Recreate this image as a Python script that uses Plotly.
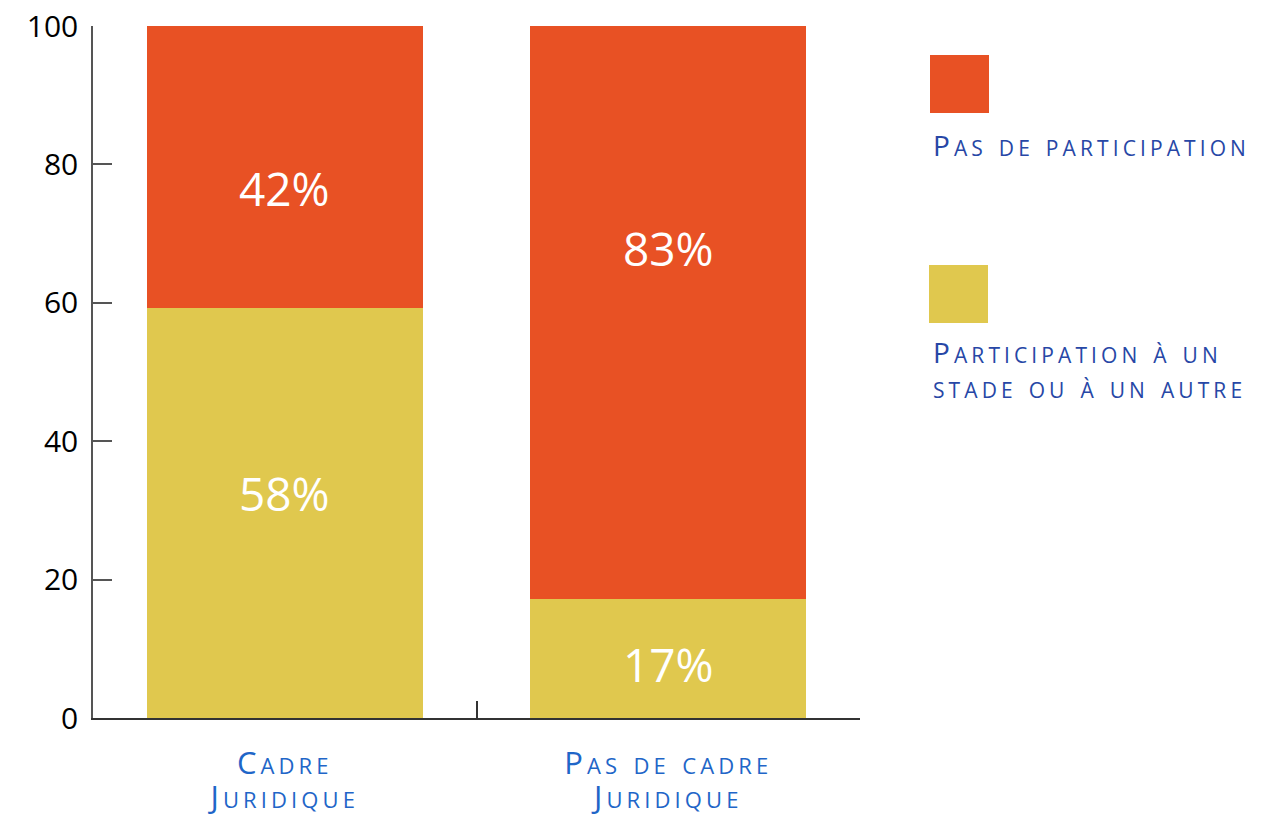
import re
import plotly.graph_objects as go

categories = ["Cadre<br>Juridique", "Pas de cadre<br>Juridique"]
legend_line1 = ["Pas de participation", "Participation à un"]
legend_line2 = ["", "stade ou à un autre"]
participation = [59.2, 17.2]
pas_participation = [40.8, 82.8]
labels_participation = ["58%", "17%"]
labels_pas = ["42%", "83%"]
label_y_participation = [32.5, 7.8]
label_y_pas = [76.6, 67.9]
y_ticks = [0, 20, 40, 60, 80, 100]

ORANGE = "#E85124"
YELLOW = "#E0C84E"
BLUE = "#1F66C8"
NAVY = "#2747A6"
FONT = "Open Sans"

# body margin of the page (8px) is compensated in the margins
OFF = 8


def smallcaps(text, cap_size, lower_size, spacing):
    """Capitals at cap_size, lowercase runs at lower_size (rendered as small caps), tracked."""
    parts = text.split("<br>")
    out = []
    for p in parts:
        p2 = re.sub(r"([A-Z]+)",
                    lambda m: f"<span style='font-size:{cap_size}px'>{m.group(1)}</span>", p)
        p2 = re.sub(r"(?<=>)([^A-Z<>]+)|^([^A-Z<>]+)",
                    lambda m: f"<span style='font-size:{lower_size}px'>{m.group(0)}</span>", p2)
        out.append(f"<span style='letter-spacing:{spacing}px'>{p2}</span>")
    return "<br>".join(out)


fig = go.Figure()
fig.add_bar(x=categories, y=participation, name=legend_line1[1],
            marker=dict(color=YELLOW, line=dict(width=0)), width=0.72)
fig.add_bar(x=categories, y=pas_participation, name=legend_line1[0],
            marker=dict(color=ORANGE, line=dict(width=0)), width=0.72)

for cat, lab, yv in zip(categories, labels_participation, label_y_participation):
    fig.add_annotation(x=cat, y=yv, text=lab, showarrow=False,
                       font=dict(family=FONT, size=46, color="white"))
for cat, lab, yv in zip(categories, labels_pas, label_y_pas):
    fig.add_annotation(x=cat, y=yv, text=lab, showarrow=False,
                       font=dict(family=FONT, size=46, color="white"))


def px(x):
    return (x - 93) / 767


def py(y):
    return (718 - y) / 692


# legend: squares above small-caps text
fig.add_shape(type="rect", xref="paper", yref="paper",
              x0=px(930), x1=px(989), y0=py(113), y1=py(55),
              fillcolor=ORANGE, line=dict(width=0))
fig.add_shape(type="rect", xref="paper", yref="paper",
              x0=px(929), x1=px(988), y0=py(323), y1=py(265),
              fillcolor=YELLOW, line=dict(width=0))

legend_text_y = [(144, None), (351, 386)]
for i in range(2):
    for txt, yy in ((legend_line1[i], legend_text_y[i][0]), (legend_line2[i], legend_text_y[i][1])):
        if not txt:
            continue
        fig.add_annotation(xref="paper", yref="paper", x=px(931), y=py(yy),
                           xanchor="left", yanchor="middle",
                           text=smallcaps(txt, 28, 30, 4.1), showarrow=False,
                           align="left",
                           font=dict(family=FONT, size=24, color=NAVY, variant="small-caps"))

tick_text = [smallcaps(c, 31, 32, 4.1) for c in categories]

fig.update_layout(
    barmode="stack",
    showlegend=False,
    width=1275, height=817,
    margin=dict(l=93 - OFF, r=1275 - 860 + OFF, t=26 - OFF, b=817 - 718 + OFF),
    plot_bgcolor="white", paper_bgcolor="white",
    xaxis=dict(
        type="category", range=[-0.5, 1.5], tickson="boundaries",
        tickmode="array", tickvals=categories, ticktext=tick_text,
        ticks="inside", ticklen=17, tickcolor="#333", tickwidth=1.5,
        showline=True, linecolor="#333", linewidth=1.5,
        showgrid=False, zeroline=False, automargin=False,
        ticklabelstandoff=23, ticklabeloverflow="allow",
        tickfont=dict(family=FONT, size=26, color=BLUE, variant="small-caps"),
    ),
    yaxis=dict(
        range=[0, 100], tickvals=y_ticks, ticks="inside", ticklen=19,
        tickcolor="#555", tickwidth=1.5,
        showline=True, linecolor="#555", linewidth=1.5,
        showgrid=False, zeroline=False, automargin=False,
        ticklabelstandoff=7, ticklabeloverflow="allow",
        tickfont=dict(family=FONT, size=30, color="black"),
    ),
)

fig.write_html("out.html")
